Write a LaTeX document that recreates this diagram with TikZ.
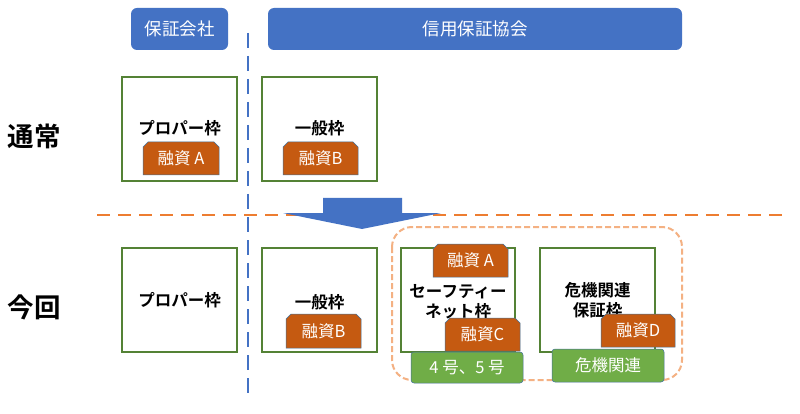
\documentclass[tikz,border=0pt]{standalone}
\usepackage{fontspec}
\setmainfont{Noto Sans CJK JP}
\newfontfamily\jpbold{Noto Sans CJK JP Bold}
\begin{document}
\begin{tikzpicture}[x=1pt,y=-1pt,
  hdr/.style={draw=none,fill=hdrblue,rounded corners=6pt},
  frame/.style={draw=frgreen,line width=1.3pt,fill=white},
  loan/.style={fill=loanor,draw=edgeblue,line width=0.5pt},
  tag/.style={fill=taggreen,draw=edgeblue,line width=0.5pt,rounded corners=3pt},
  wtxt/.style={text=white,font=\fontsize{16.5}{18}\selectfont,inner sep=0pt},
  htxt/.style={text=white,font=\fontsize{17.5}{19}\selectfont,inner sep=0pt},
  btxt/.style={text=black,font=\jpbold\fontsize{16.5}{20}\selectfont,inner sep=0pt,align=center},
  big/.style={text=black,font=\jpbold\fontsize{26.5}{28}\selectfont,inner sep=0pt}
]
\definecolor{hdrblue}{HTML}{4472C4}
\definecolor{frgreen}{HTML}{548235}
\definecolor{loanor}{HTML}{C55A11}
\definecolor{edgeblue}{HTML}{41719C}
\definecolor{taggreen}{HTML}{70AD47}
\definecolor{lineor}{HTML}{ED7D31}
\definecolor{lightor}{HTML}{F4B183}
\useasboundingbox (0,0) rectangle (800,414);
\fill[white] (0,0) rectangle (800,414);

% headers
\fill[hdr] (131,8) rectangle (228,50);
\node[htxt] (hA) at (179.5,29) {保証会社};
\fill[hdr] (268,8) rectangle (682,50);
\node[htxt] (hB) at (475,29) {信用保証協会};

% separators
\coordinate (vtop) at (248,33);
\coordinate (vbot) at (248,397);
\draw[hdrblue,line width=2.5pt,dash pattern=on 15pt off 8pt] (vtop) -- (vbot);
\coordinate (hl) at (97,215);
\coordinate (hr) at (785,215);
\draw[lineor,line width=2.8pt,dash pattern=on 13pt off 8pt] (hl) -- (hr);

% left labels
\node[big] (normal) at (34.5,136) {通常};
\node[big] (now) at (34.5,307) {今回};

% top row
\draw[frame] (122,77) rectangle (237,181);
\node[btxt] (t1) at (179.5,128) {プロパー枠};
\draw[loan] (143,175) -- (143,147) -- (148,142) -- (214,142) -- (219,147) -- (219,175) -- cycle;
\node[wtxt] (l1) at (181,158.5) {融資 A};

\draw[frame] (262,77) rectangle (377,181);
\node[btxt] (t2) at (319.5,128) {一般枠};
\draw[loan] (283,175) -- (283,147) -- (288,142) -- (353,142) -- (358,147) -- (358,175) -- cycle;
\node[wtxt] (l2) at (320.5,158.5) {融資B};

% arrow
\fill[hdrblue] (323,198) -- (402,198) -- (402,213) -- (441,213) -- (362,229) -- (283,213) -- (323,213) -- cycle;

% safety-net group
\draw[lightor,line width=2pt,dash pattern=on 6pt off 3pt,rounded corners=20pt] (392,227) rectangle (682,380);

% bottom row
\draw[frame] (122,248) rectangle (237,352);
\node[btxt] (b1) at (179.5,300) {プロパー枠};

\draw[frame] (262,248) rectangle (377,352);
\node[btxt] (b2) at (319.5,302) {一般枠};
\draw[loan] (286,348) -- (286,319) -- (291,314) -- (356,314) -- (361,319) -- (361,348) -- cycle;
\node[wtxt] (l3) at (323.5,331) {融資B};

\draw[frame] (401,248) rectangle (515,352);
\draw[loan] (433,277) -- (433,249) -- (438,244) -- (503,244) -- (508,249) -- (508,277) -- cycle;
\node[wtxt] (l4) at (470.5,260.5) {融資 A};
\node[btxt] (b3) at (458,302) {セーフティー\\ネット枠};
\draw[loan] (445,351) -- (445,323) -- (450,318) -- (515,318) -- (520,323) -- (520,351) -- cycle;
\node[wtxt] (l5) at (482.5,334.5) {融資C};
\draw[tag] (411,383) -- (411,352) -- (523,352) -- (523,383) -- cycle;
\node[wtxt] (g1) at (467,367.5) {4 号、5 号};

\draw[frame] (540,248) rectangle (655,352);
\node[btxt] (b4) at (597.5,300) {危機関連\\保証枠};
\draw[loan] (601,347) -- (601,319) -- (606,314) -- (670,314) -- (675,319) -- (675,347) -- cycle;
\node[wtxt] (l6) at (638,330.5) {融資D};
\draw[tag] (552,382) -- (552,349) -- (664,349) -- (664,382) -- cycle;
\node[wtxt] (g2) at (608,365.5) {危機関連};
\end{tikzpicture}
\end{document}
